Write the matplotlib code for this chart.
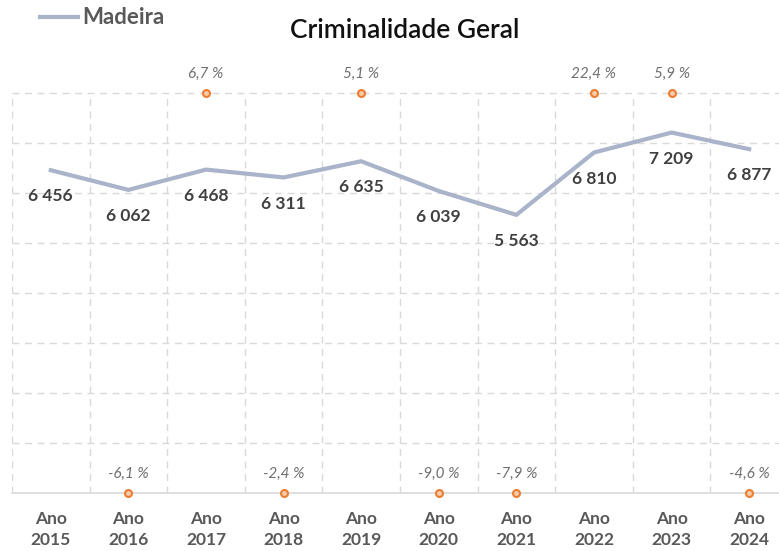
import matplotlib.pyplot as plt
from matplotlib.lines import Line2D

anos = ["Ano\n2015", "Ano\n2016", "Ano\n2017", "Ano\n2018", "Ano\n2019",
        "Ano\n2020", "Ano\n2021", "Ano\n2022", "Ano\n2023", "Ano\n2024"]
madeira = [6456, 6062, 6468, 6311, 6635, 6039, 5563, 6810, 7209, 6877]
var_pct = [None, -6.1, 6.7, -2.4, 5.1, -9.0, -7.9, 22.4, 5.9, -4.6]

plt.rcParams['font.family'] = ['Lato', 'DejaVu Sans']

fig = plt.figure(figsize=(7.79, 5.51), dpi=100)
ax = fig.add_axes([12 / 779, 58 / 551, 776 / 779, 400 / 551])

x = list(range(len(anos)))
ax.plot(x, madeira, color='#a9b3ca', lw=3, solid_joinstyle='miter', zorder=3)

ymin, ymax = 0, 8000
ax.set_xlim(-0.5, len(anos) - 0.5)
ax.set_ylim(ymin, ymax)

# grelha tracejada
for k in range(1, 9):
    ax.axhline(k * 1000, color='#d9d9d9', lw=1, ls=(0, (5, 4)), zorder=1, clip_on=False)
for k in range(len(anos)):
    ax.axvline(k - 0.5, color='#d9d9d9', lw=1, ls=(0, (5, 4)), zorder=1)
ax.axhline(0, color='#d9d9d9', lw=1.2, zorder=1, clip_on=False)

for s in ax.spines.values():
    s.set_visible(False)
ax.set_yticks([])
ax.set_xticks(x)
ax.set_xticklabels(anos, fontsize=12.5, fontweight='bold', color='#595959', linespacing=1.35)
ax.tick_params(axis='x', length=0, pad=13)

# rótulos dos valores
for xi, v in zip(x, madeira):
    ax.annotate(f"{v:,}".replace(",", " "), (xi, v), xytext=(0, -13),
                textcoords='offset points', ha='center', va='top',
                fontsize=12.5, fontweight='bold', color='#404040', zorder=4)

# variação anual
for xi, p in zip(x, var_pct):
    if p is None:
        continue
    yy = ymax if p > 0 else ymin
    ax.plot(xi, yy, 'o', ms=5, mfc='#f8cbad', mec='#ed7d31', mew=1.5,
            clip_on=False, zorder=5)
    txt = f"{p:.1f} %".replace(".", ",")
    ax.annotate(txt, (xi, yy), xytext=(0, 9), textcoords='offset points',
                ha='center', va='bottom', fontsize=11, style='italic',
                color='#6f6f6f')

fig.text(405 / 779, 1 - 31 / 551, "Criminalidade Geral", ha='center', va='center',
         fontsize=19, fontweight='semibold', color='#111111')

leg_line = Line2D([40 / 779, 78 / 779], [1 - 17 / 551, 1 - 17 / 551],
                  transform=fig.transFigure, color='#a9b3ca', lw=3)
fig.add_artist(leg_line)
fig.text(82 / 779, 1 - 17 / 551, "Madeira", ha='left', va='center',
         fontsize=16, fontweight='bold', color='#595959')

fig.savefig("out.png", dpi=100)
